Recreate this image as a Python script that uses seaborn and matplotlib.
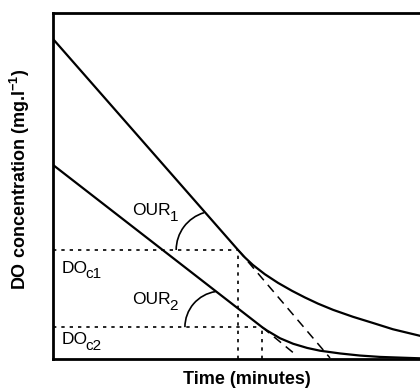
import numpy as np
import pandas as pd
import matplotlib
matplotlib.use('Agg')
import matplotlib.pyplot as plt
from matplotlib.patches import Arc
import seaborn as sns

sns.set_style('white')
plt.rcParams['font.family'] = ['Liberation Sans', 'DejaVu Sans']
plt.rcParams['mathtext.default'] = 'regular'
plt.rcParams['text.color'] = 'black'

# curva 1 (DO alto) - tramo lineal y luego decaimiento
t1 = [0, 4.77, 4.95, 5.15, 5.46, 5.80, 6.16, 6.49, 6.83, 7.22, 7.73, 8.25, 8.76, 9.46, 10.0]
do1 = [9.25, 3.15, 2.93, 2.72, 2.45, 2.20, 1.97, 1.78, 1.60, 1.42, 1.22, 1.04, 0.86, 0.67, 0.56]

# curva 2 (DO bajo)
t2 = [0, 5.39, 5.52, 5.85, 6.19, 6.55, 6.88, 7.40, 7.91, 8.43, 8.94, 9.46, 10.0]
do2 = [5.61, 0.92, 0.82, 0.60, 0.44, 0.32, 0.24, 0.16, 0.10, 0.06, 0.04, 0.02, 0.01]

# tangentes (continuacion del tramo lineal)
tan1_t = [4.77, 7.14]
tan1_do = [3.15, 0.03]
tan2_t = [5.39, 6.26]
tan2_do = [0.92, 0.12]

# concentraciones criticas
doc = [3.15, 0.92]
t_doc = [4.77, 5.39]

fig = plt.figure(figsize=(4.2, 3.92), dpi=100)
ax = fig.add_axes([53 / 420, 33 / 392, 388 / 420, 346 / 392])

df1 = pd.DataFrame({'t': t1, 'DO': do1})
df2 = pd.DataFrame({'t': t2, 'DO': do2})
sns.lineplot(data=df1, x='t', y='DO', color='black', lw=1.6, sort=False, ax=ax)
sns.lineplot(data=df2, x='t', y='DO', color='black', lw=1.6, sort=False, ax=ax)

for tt, dd in [(tan1_t, tan1_do), (tan2_t, tan2_do)]:
    ax.plot(tt, dd, color='black', lw=1.1, linestyle=(0, (6, 4)))

for d, tc in zip(doc, t_doc):
    ax.plot([0, tc], [d, d], color='black', lw=1.2, linestyle=(0, (2, 3)))
    ax.plot([tc, tc], [0, d], color='black', lw=1.2, linestyle=(0, (2, 3)))

# arcos de OUR
ax.add_patch(Arc((4.18, 3.15), 2.01, 2.25, theta1=105, theta2=180, color='black', lw=1.2))
ax.add_patch(Arc((4.33, 0.92), 1.86, 2.08, theta1=98, theta2=180, color='black', lw=1.2))

ax.set_xlim(0, 10)
ax.set_ylim(0, 10)
ax.set_xticks([])
ax.set_yticks([])
ax.set_xlabel('')
ax.set_ylabel('')
for s in ['left', 'top', 'bottom']:
    ax.spines[s].set_color('black')
    ax.spines[s].set_linewidth(2)
ax.spines['right'].set_visible(False)

# etiquetas con subindice casi del mismo tamano
renderer = fig.canvas.get_renderer()
def label(x, y, main, sub):
    t = ax.text(x, y, main, fontsize=12.5, color='black')
    w = t.get_window_extent(renderer).width * 72 / fig.dpi
    ax.annotate(sub, xy=(x, y), xytext=(w - 1.0, -4), textcoords='offset points',
                fontsize=11, color='black')

label(2.04, 4.16, 'OUR', '1')
label(2.04, 1.59, 'OUR', '2')
label(0.21, 2.49, 'DO', 'c1')
label(0.21, 0.43, 'DO', 'c2')

fig.text(247 / 420, 1 - 380 / 392, 'Time (minutes)', fontsize=13, fontweight='bold',
         ha='center', va='center')
fig.text(20 / 420, 1 - 179 / 392, 'DO concentration (mg.l$^{-1}$)', fontsize=13,
         fontweight='bold', rotation=90, ha='center', va='center')

fig.savefig('out.png', dpi=100)
